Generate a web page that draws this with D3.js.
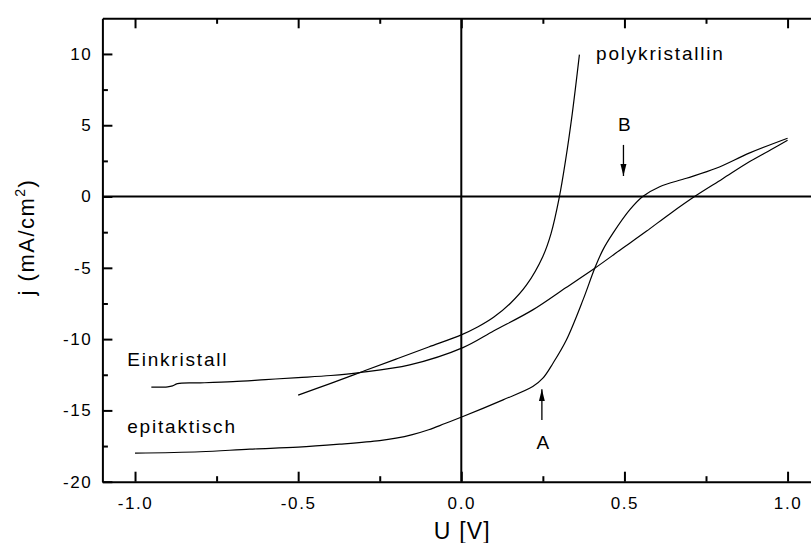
<!DOCTYPE html>
<html>
<head>
<meta charset="utf-8">
<script src="https://cdn.jsdelivr.net/npm/d3@7"></script>
<style>
  html, body { margin: 0; padding: 0; background: #fff; }
  svg { display: block; font-family: "Liberation Sans", Arial, sans-serif; }
</style>
</head>
<body>
<svg id="chart" width="811" height="543"></svg>
<script>
// Current density vs. voltage for three absorber types
const epiU = [-1.0, -0.8, -0.648, -0.5, -0.373, -0.25, -0.2, -0.15, -0.1, -0.05, 0.005, 0.128, 0.219, 0.25, 0.281, 0.322, 0.373, 0.409, 0.434, 0.465, 0.516, 0.556, 0.608, 0.69, 0.781, 0.884, 1.0];
const epiJ = [-18.0, -17.9, -17.72, -17.58, -17.37, -17.12, -16.95, -16.7, -16.36, -15.92, -15.43, -14.26, -13.33, -12.74, -11.69, -10.06, -7.25, -5.03, -3.74, -2.57, -0.94, 0.0, 0.69, 1.28, 1.98, 3.06, 4.09];

const einU = [-0.95, -0.90, -0.885, -0.87, -0.8, -0.7, -0.6, -0.5, -0.4, -0.312, -0.158, 0.005, 0.1, 0.219, 0.32, 0.409, 0.49, 0.567, 0.64, 0.715, 0.8, 0.884, 0.95, 1.0];
const einJ = [-13.37, -13.35, -13.28, -13.12, -13.07, -12.98, -12.84, -12.7, -12.55, -12.35, -11.81, -10.6, -9.42, -7.95, -6.4, -5.03, -3.7, -2.44, -1.2, 0.0, 1.23, 2.45, 3.3, 3.95];

const polyU = [-0.5, -0.4, -0.3, -0.2, -0.1, 0.0, 0.05, 0.1, 0.15, 0.2, 0.25, 0.275, 0.3, 0.32, 0.34, 0.362];
const polyJ = [-13.93, -13.1, -12.25, -11.4, -10.55, -9.7, -9.15, -8.45, -7.5, -6.2, -4.2, -2.6, -0.1, 2.6, 5.8, 9.95];

const xMajor = [-1.0, -0.5, 0.0, 0.5, 1.0];
const xMinor = [-0.75, -0.25, 0.25, 0.75];
const yMajor = [-20, -15, -10, -5, 0, 5, 10];
const yMinor = [-17.5, -12.5, -7.5, -2.5, 2.5, 7.5];

// Curve labels and arrows (U, j)
const curveLabels = [
  { text: "polykristallin", u: 0.413, j: 9.6 },
  { text: "Einkristall", u: -1.024, j: -11.87 },
  { text: "epitaktisch", u: -1.024, j: -16.6 }
];
const arrows = [
  { name: "B", u: 0.497, from: 3.62, to: 1.44, labelJ: 4.6 },
  { name: "A", u: 0.247, from: -15.67, to: -13.51, labelJ: -17.7 }
];

const svg = d3.select("#chart");
const x = d3.scaleLinear().domain([-1.1, 1.1]).range([102.4, 820.2]);
const y = d3.scaleLinear().domain([-20, 12.5]).range([481.7, 18.3]);

// plain hyphen-minus for negative tick labels
const fmtX = d => d3.format(".1f")(d).replace("\u2212", "-");
const fmtY = d => d3.format("d")(d).replace("\u2212", "-");
const tickFont = "17px";
const tickSpacing = "1.6px";

function styleAxis(g, width) {
  g.select(".domain").attr("stroke", "#000").attr("stroke-width", width);
  g.selectAll(".tick line").attr("stroke", "#000").attr("stroke-width", 2);
  g.selectAll(".tick text")
    .attr("fill", "#000")
    .style("font-size", tickFont)
    .style("letter-spacing", tickSpacing)
    .style("font-family", "'Liberation Sans', Arial, sans-serif");
}
function minorTicks(g) {
  g.select(".domain").remove();
  g.selectAll(".tick line").attr("stroke", "#000").attr("stroke-width", 2);
}

// bottom axis
const gBottom = svg.append("g").attr("transform", `translate(0,${y(-20)})`)
  .call(d3.axisBottom(x).tickValues(xMajor).tickFormat(fmtX).tickSizeInner(-10).tickSizeOuter(0).tickPadding(15));
styleAxis(gBottom, 2);
svg.append("g").attr("transform", `translate(0,${y(-20)})`)
  .call(d3.axisBottom(x).tickValues(xMinor).tickFormat("").tickSizeInner(-5.5).tickSizeOuter(0))
  .call(minorTicks);

// top axis
const gTop = svg.append("g").attr("transform", `translate(0,${y(12.5)})`)
  .call(d3.axisTop(x).tickValues(xMajor).tickFormat("").tickSizeInner(-10).tickSizeOuter(0));
styleAxis(gTop, 2);
svg.append("g").attr("transform", `translate(0,${y(12.5)})`)
  .call(d3.axisTop(x).tickValues(xMinor).tickFormat("").tickSizeInner(-5.5).tickSizeOuter(0))
  .call(minorTicks);

// left axis
const gLeft = svg.append("g").attr("transform", `translate(${x(-1.1)},0)`)
  .call(d3.axisLeft(y).tickValues(yMajor).tickFormat(fmtY).tickSizeInner(-10).tickSizeOuter(0).tickPadding(10));
styleAxis(gLeft, 2);
svg.append("g").attr("transform", `translate(${x(-1.1)},0)`)
  .call(d3.axisLeft(y).tickValues(yMinor).tickFormat("").tickSizeInner(-5.5).tickSizeOuter(0))
  .call(minorTicks);

// zero lines
svg.append("line")
  .attr("x1", x(-1.1)).attr("x2", x(1.1))
  .attr("y1", y(0)).attr("y2", y(0))
  .attr("stroke", "#000").attr("stroke-width", 2);
svg.append("line")
  .attr("x1", x(0)).attr("x2", x(0))
  .attr("y1", y(12.5)).attr("y2", y(-20))
  .attr("stroke", "#000").attr("stroke-width", 2);

// curves
const line = d3.line().x(d => x(d[0])).y(d => y(d[1])).curve(d3.curveCatmullRom.alpha(0.5));
const series = [
  d3.zip(epiU, epiJ),
  d3.zip(einU, einJ),
  d3.zip(polyU, polyJ)
];
svg.append("g").selectAll("path").data(series).join("path")
  .attr("d", line)
  .attr("fill", "none")
  .attr("stroke", "#000")
  .attr("stroke-width", 1.2);

// curve labels
svg.append("g").selectAll("text").data(curveLabels).join("text")
  .attr("x", d => x(d.u))
  .attr("y", d => y(d.j))
  .attr("fill", "#000")
  .style("font-size", "19px")
  .style("letter-spacing", "1.8px")
  .text(d => d.text);

// arrows
svg.append("defs").append("marker")
  .attr("id", "head")
  .attr("viewBox", "0 0 12 8")
  .attr("refX", 12).attr("refY", 4)
  .attr("markerWidth", 12).attr("markerHeight", 8)
  .attr("markerUnits", "userSpaceOnUse")
  .attr("orient", "auto")
  .append("path").attr("d", "M0,1 L12,4 L0,7 Z").attr("fill", "#000");

svg.append("g").selectAll("line").data(arrows).join("line")
  .attr("x1", d => x(d.u)).attr("x2", d => x(d.u))
  .attr("y1", d => y(d.from)).attr("y2", d => y(d.to))
  .attr("stroke", "#000").attr("stroke-width", 1.3)
  .attr("marker-end", "url(#head)");

svg.append("g").selectAll("text").data(arrows).join("text")
  .attr("x", d => x(d.u) + 1)
  .attr("y", d => y(d.labelJ))
  .attr("text-anchor", "middle")
  .attr("fill", "#000")
  .style("font-size", "19px")
  .text(d => d.name);

// axis titles
svg.append("text")
  .attr("x", x(0) + 1)
  .attr("y", 539)
  .attr("text-anchor", "middle")
  .attr("fill", "#000")
  .style("font-size", "23px")
  .style("letter-spacing", "1.2px")
  .text("U [V]");

const yt = svg.append("text")
  .attr("transform", `translate(34,${237}) rotate(-90)`)
  .attr("text-anchor", "middle")
  .attr("fill", "#000")
  .style("font-size", "22px")
  .style("letter-spacing", "1.5px");
yt.append("tspan").text("j (mA/cm");
yt.append("tspan").attr("dy", -9).style("font-size", "14px").text("2");
yt.append("tspan").attr("dy", 9).text(")");
</script>
</body>
</html>
